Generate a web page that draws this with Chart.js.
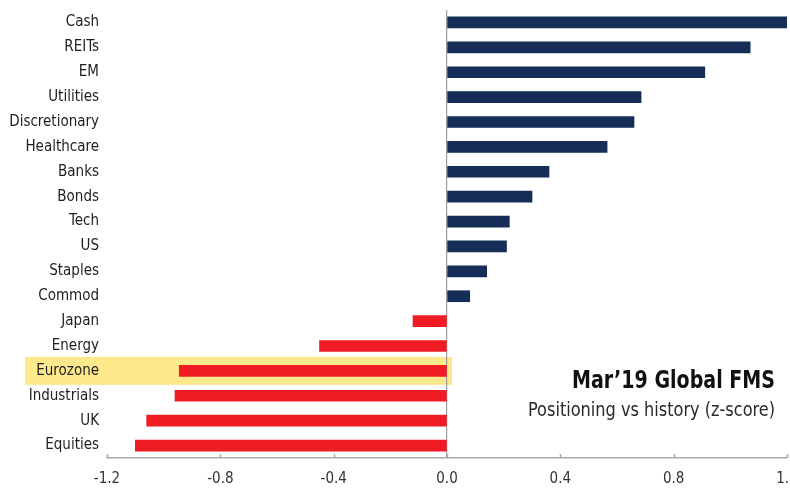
<!DOCTYPE html>
<html>
<head>
<meta charset="utf-8">
<script src="https://cdn.jsdelivr.net/npm/chart.js@4/dist/chart.umd.min.js"></script>
<style>
  html, body { margin: 0; padding: 0; background: #fff; }
  #fms { display: block; }
</style>
</head>
<body>
<canvas id="fms" width="790" height="491"></canvas>
<script>
// asset classes / sectors, top to bottom
const categories = [
  "Cash", "REITs", "EM", "Utilities", "Discretionary", "Healthcare",
  "Banks", "Bonds", "Tech", "US", "Staples", "Commod",
  "Japan", "Energy", "Eurozone", "Industrials", "UK", "Equities"
];

// positioning vs history, z-score
const zScores = [
  1.20, 1.07, 0.91, 0.685, 0.66, 0.565,
  0.36, 0.30, 0.22, 0.21, 0.14, 0.08,
  -0.12, -0.45, -0.945, -0.96, -1.06, -1.10
];

const xTicks = [-1.2, -0.8, -0.4, 0.0, 0.4, 0.8, 1.2];
const highlighted = "Eurozone";

const NAVY = "#152d57";
const RED = "#ef1c24";
const FONT = "'DejaVu Sans Condensed', 'Liberation Sans Narrow', 'Arial Narrow', sans-serif";

/* highlight band behind the Eurozone row */
const highlightPlugin = {
  id: "highlightRow",
  beforeDraw(chart) {
    const { ctx, scales } = chart;
    const idx = categories.indexOf(highlighted);
    if (idx < 0) return;
    const y = scales.y.getPixelForValue(idx);
    const x0 = scales.x.getPixelForValue(0);
    ctx.save();
    ctx.fillStyle = "#fde98c";
    ctx.fillRect(25, y - 14, x0 + 5 - 25, 28);
    ctx.restore();
  }
};

/* small upward tick marks on the x axis + caption */
const axisTicksPlugin = {
  id: "axisTicks",
  afterDraw(chart) {
    const { ctx, scales, chartArea } = chart;
    const x = scales.x;
    ctx.save();
    ctx.strokeStyle = "#a8a8a8";
    ctx.lineWidth = 1.5;
    xTicks.forEach(v => {
      const px = Math.round(x.getPixelForValue(v)) + 0.5;
      ctx.beginPath();
      ctx.moveTo(px, chartArea.bottom);
      ctx.lineTo(px, chartArea.bottom - 4);
      ctx.stroke();
    });

    ctx.textAlign = "right";
    ctx.textBaseline = "middle";
    ctx.fillStyle = "#111";
    ctx.font = "bold 24px " + FONT;
    ctx.fillText("Mar\u201919 Global FMS", 775, 382, 203);
    ctx.fillStyle = "#2a2a2a";
    ctx.font = "19px " + FONT;
    ctx.fillText("Positioning vs history (z-score)", 775, 411, 247);
    ctx.restore();
  }
};

new Chart(document.getElementById("fms"), {
  type: "bar",
  data: {
    labels: categories,
    datasets: [
      {
        data: zScores,
        backgroundColor: zScores.map(v => (v >= 0 ? NAVY : RED)),
        barThickness: 11,
        borderWidth: 0
      }
    ]
  },
  options: {
    indexAxis: "y",
    responsive: false,
    animation: false,
    layout: { padding: { top: 10, right: 3, bottom: 0, left: 0 } },
    plugins: {
      legend: { display: false },
      tooltip: { enabled: false }
    },
    scales: {
      x: {
        min: -1.2,
        max: 1.2,
        afterBuildTicks(scale) {
          scale.ticks = xTicks.map(v => ({ value: v }));
        },
        afterFit(scale) {
          scale.height = 33;
          scale.paddingLeft = 0;
          scale.paddingRight = 0;
        },
        ticks: {
          color: "#333",
          font: { family: FONT, size: 15 },
          padding: 12,
          maxRotation: 0,
          callback: v => Number(v).toFixed(1)
        },
        grid: {
          drawTicks: false,
          color: ctx => (ctx.tick && ctx.tick.value === 0 ? "#9c9c9c" : "transparent"),
          lineWidth: 1.2
        },
        border: { display: true, color: "#a8a8a8", width: 1.5 }
      },
      y: {
        afterFit(scale) {
          scale.width = 107;
          scale.paddingTop = 0;
          scale.paddingBottom = 0;
        },
        ticks: {
          color: "#1e1e1e",
          font: { family: FONT, size: 15 },
          padding: 8
        },
        grid: { display: false, drawTicks: false },
        border: { display: false }
      }
    }
  },
  plugins: [highlightPlugin, axisTicksPlugin]
});
</script>
</body>
</html>
